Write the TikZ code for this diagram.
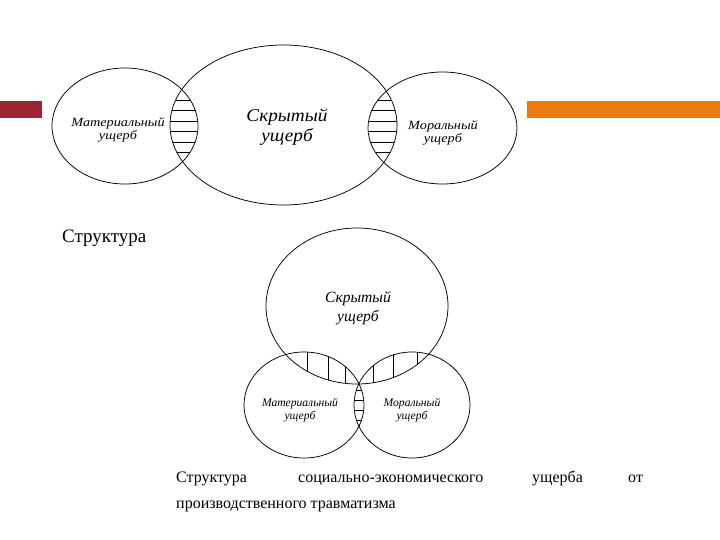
\documentclass[tikz,border=0pt]{standalone}
\usepackage{fontspec}
\setmainfont{Liberation Serif}
\newfontfamily\stretchA[FakeStretch=1.14]{Liberation Serif}
\newfontfamily\stretchB[FakeStretch=1.07]{Liberation Serif}
\begin{document}
\begin{tikzpicture}[x=1pt,y=-1pt,
  ell/.style={draw=black, line width=0.75pt},
  hatch/.style={draw=black, line width=0.5pt},
  lbl/.style={font=\stretchA\itshape\fontsize{12.5}{13.5}\selectfont, align=center, inner sep=0pt},
  biglbl/.style={font=\stretchB\itshape\fontsize{18}{19.5}\selectfont, align=center, inner sep=0pt},
  blbl/.style={font=\itshape\fontsize{11.6}{12.5}\selectfont, align=center, inner sep=0pt},
  captxt/.style={font=\fontsize{16}{18}\selectfont, inner sep=0pt, anchor=base west}]
\useasboundingbox (0,0) rectangle (720,540);
% accent bars
\fill[fill={rgb,255:red,155;green,35;blue,50}] (0,101) rectangle (42,118);
\fill[fill={rgb,255:red,235;green,122;blue,12}] (527,101) rectangle (720,118);
% ---------- top diagram ----------
\def\MatA{(125,126) ellipse (73 and 58)}
\def\SkrA{(283.5,125) ellipse (113.5 and 80)}
\def\MorA{(442.5,128) ellipse (74.5 and 56)}
\begin{scope}
  \clip \MatA; \clip \SkrA;
  \foreach \yy in {100,110.5,...,160} \draw[hatch] (160,\yy) -- (210,\yy);
\end{scope}
\begin{scope}
  \clip \MorA; \clip \SkrA;
  \foreach \yy in {100,110.5,...,160} \draw[hatch] (360,\yy) -- (410,\yy);
\end{scope}
\draw[ell] \MatA;
\draw[ell] \SkrA;
\draw[ell] \MorA;
\node[lbl] (tmat) at (118,130) {Материальный\\ущерб};
\node[biglbl] (tskr) at (287,127) {Скрытый\\ущерб};
\node[lbl] (tmor) at (443,133) {Моральный\\ущерб};
\node[font=\fontsize{19}{20}\selectfont, inner sep=0pt, anchor=base west] (struct) at (62,242) {Структура};
% ---------- bottom diagram ----------
\def\SkrB{(357,306) ellipse (91 and 78)}
\def\MatB{(304,405) ellipse (60 and 53)}
\def\MorB{(412,405) ellipse (58 and 53)}
\begin{scope}
  \clip \MatB; \clip \SkrB;
  \foreach \xx in {307,328,345} \draw[hatch] (\xx,340) -- (\xx,400);
\end{scope}
\begin{scope}
  \clip \MorB; \clip \SkrB;
  \foreach \xx in {373,393,417} \draw[hatch] (\xx,340) -- (\xx,400);
\end{scope}
\begin{scope}
  \clip \MatB; \clip \MorB;
  \foreach \yy in {390,400,410,420} \draw[hatch] (340,\yy) -- (380,\yy);
\end{scope}
\draw[ell] \SkrB;
\draw[ell] \MatB;
\draw[ell] \MorB;
\node[biglbl, font=\itshape\fontsize{15.6}{19}\selectfont] (bskr) at (358,308) {Скрытый\\ущерб};
\node[blbl] (bmat) at (300,410) {Материальный\\ущерб};
\node[blbl] (bmor) at (412,410) {Моральный\\ущерб};
% caption
\node[captxt] (c1) at (176,482.5) {Структура};
\node[captxt] (c2) at (298,482.5) {социально-экономического};
\node[captxt] (c3) at (532,482.5) {ущерба};
\node[captxt] (c4) at (628,482.5) {от};
\node[captxt] (c5) at (176,508.5) {производственного травматизма};
\end{tikzpicture}
\end{document}
